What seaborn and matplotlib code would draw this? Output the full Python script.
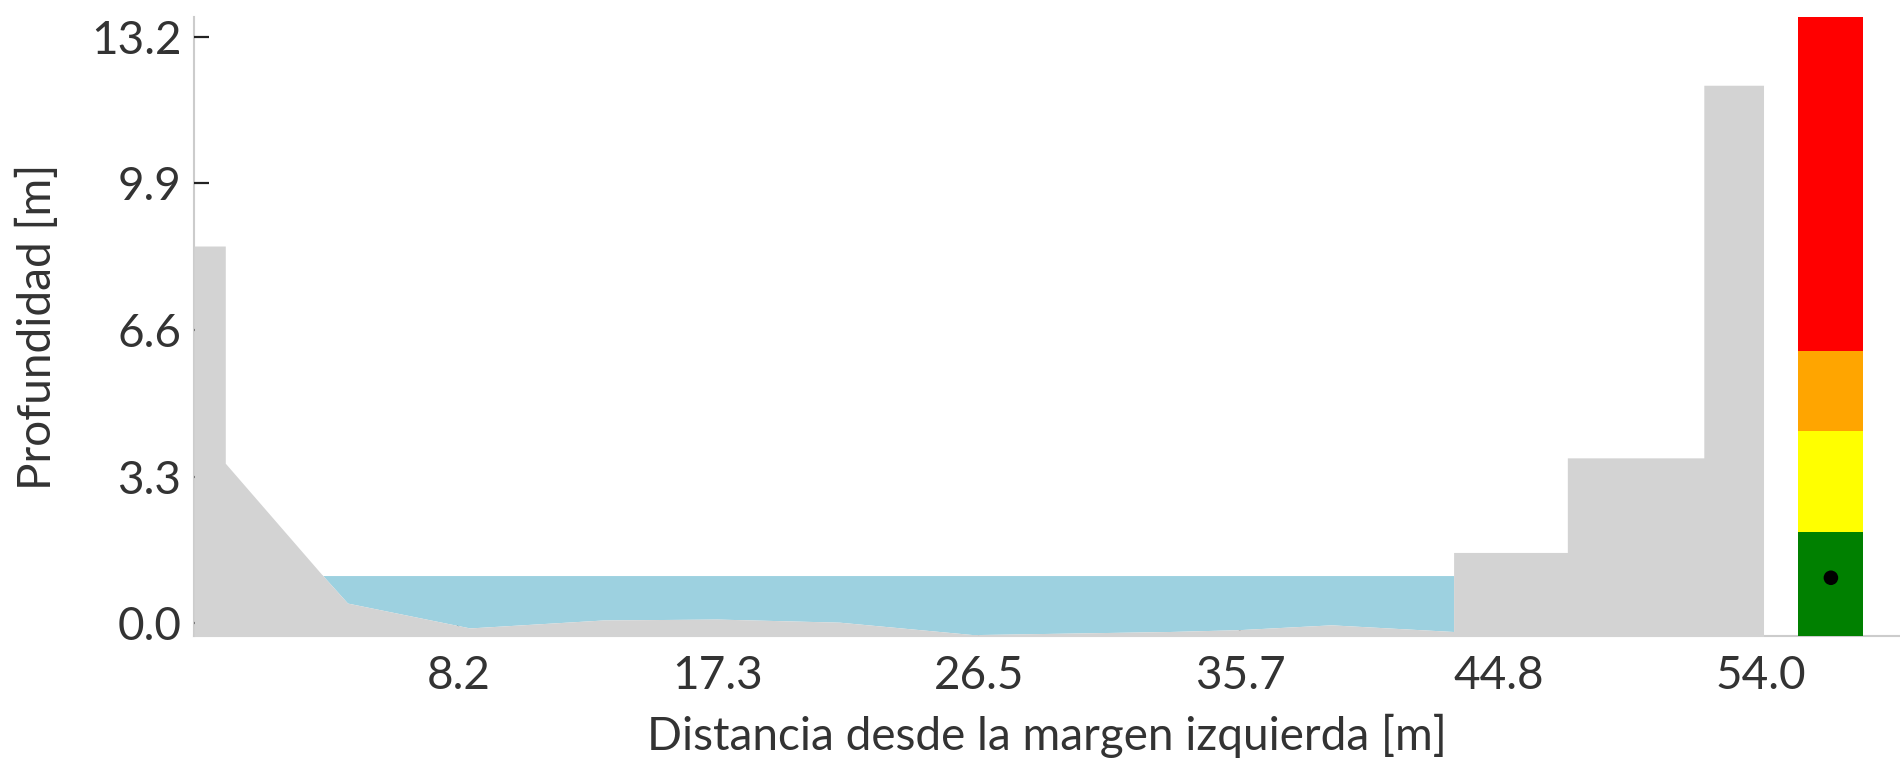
import numpy as np
import pandas as pd
import matplotlib
matplotlib.use('Agg')
import matplotlib.pyplot as plt
import seaborn as sns

# perfil del cauce (distancia [m], cota [m])
dist = [-1.1, 0.0, 0.0, 3.4, 4.3, 8.6, 13.3, 17.3, 21.6, 26.3, 33.2, 35.6, 38.9, 43.2,
        43.2, 47.2, 47.2, 52.0, 52.0, 54.1]
cota = [8.49, 8.49, 3.6, 1.09, 0.45, -0.11, 0.07, 0.09, 0.02, -0.26, -0.19, -0.15, -0.04, -0.19,
        1.59, 1.59, 3.72, 3.72, 12.11, 12.11]

nivel_agua = 1.07
agua_desde, agua_hasta = 3.4, 43.2

# semaforo de alerta
umbrales = [-0.28, 2.05, 4.33, 6.13, 13.64]
colores_alerta = ['green', 'yellow', 'orange', 'red']
semaforo_x = 56.47
nivel_actual = 1.02

xticks = [8.2, 17.3, 26.5, 35.7, 44.8, 54.0]
yticks = [0.0, 3.3, 6.6, 9.9, 13.2]

sns.set_theme(style='white')
plt.rcParams['font.family'] = ['Lato', 'DejaVu Sans']

df = pd.DataFrame({'dist': dist, 'cota': cota})

fig = plt.figure(figsize=(19, 7.65), dpi=100)
ax = fig.add_axes([194 / 1900, 129.5 / 765, 1706 / 1900, 618.2 / 765])

ymin, ymax = umbrales[0], umbrales[-1]

# terreno
ax.fill_between(df['dist'], ymin - 1, df['cota'], color='lightgray', lw=0, zorder=2)

# agua
x_agua = np.array([d for d in dist if agua_desde <= d <= agua_hasta])
fondo = np.interp(x_agua, dist[3:14], cota[3:14])
ax.fill_between(x_agua, fondo, nivel_agua, color='#9dd1e0', lw=0, zorder=1)

# semaforo
for i, c in enumerate(colores_alerta):
    ax.bar(semaforo_x, umbrales[i + 1] - umbrales[i], bottom=umbrales[i], width=2.29,
           color=c, lw=0, zorder=3)
sns.scatterplot(x=[semaforo_x], y=[nivel_actual], color='black', s=110, ax=ax, zorder=4,
                edgecolor='none')

ax.set_xlim(-1.1, 58.9)
ax.set_ylim(ymin, ymax)
ax.set_xticks(xticks)
ax.set_xticklabels([f'{t:.1f}' for t in xticks])
ax.set_yticks(yticks)
ax.set_yticklabels([f'{t:.1f}' for t in yticks])

ax.tick_params(direction='in', length=11, width=1.6, color='#222222', labelcolor='#333333',
               labelsize=33, pad=9, left=True, bottom=True)
ax.tick_params(axis='x', pad=14)

sns.despine(ax=ax)
for s in ['left', 'bottom']:
    ax.spines[s].set_color('#cccccc')
    ax.spines[s].set_linewidth(1.5)
    ax.spines[s].set_zorder(0)

ax.set_xlabel('Distancia desde la margen izquierda [m]', fontsize=33, color='#333333')
ax.set_ylabel('Profundidad [m]', fontsize=33, color='#333333')
ax.xaxis.set_label_coords(0.5, -0.127)
ax.yaxis.set_label_coords(-0.079, 0.5)
ax.grid(False)

fig.savefig('out.png', dpi=100)
